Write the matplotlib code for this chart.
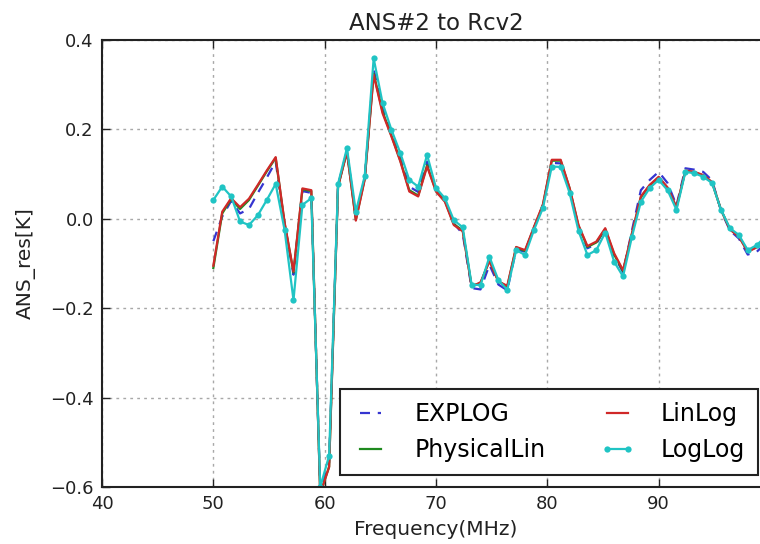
import numpy as np
import matplotlib
matplotlib.use("Agg")
import matplotlib.pyplot as plt

# ---- data ----
freq = [50.0 + 0.8 * k for k in range(63)]

loglog = [0.042, 0.072, 0.050, -0.006, -0.014, 0.008, 0.042, 0.078, -0.025, -0.182,
          0.031, 0.046, -0.600, -0.530, 0.078, 0.158, 0.016, 0.096, 0.359, 0.259,
          0.199, 0.147, 0.087, 0.072, 0.143, 0.069, 0.046, -0.003, -0.019, -0.148,
          -0.148, -0.085, -0.137, -0.159, -0.070, -0.081, -0.025, 0.024, 0.117, 0.116,
          0.058, -0.027, -0.081, -0.070, -0.031, -0.096, -0.129, -0.040, 0.038, 0.069,
          0.087, 0.064, 0.020, 0.105, 0.102, 0.094, 0.080, 0.020, -0.021, -0.036,
          -0.070, -0.059, -0.040]

linlog = [-0.105, 0.016, 0.046, 0.026, 0.045, 0.076, 0.108, 0.138, -0.008, -0.118,
          0.068, 0.064, -0.615, -0.555, 0.072, 0.150, -0.004, 0.088, 0.322, 0.236,
          0.184, 0.128, 0.061, 0.050, 0.117, 0.061, 0.038, -0.014, -0.028, -0.152,
          -0.142, -0.095, -0.140, -0.150, -0.063, -0.070, -0.018, 0.032, 0.132, 0.132,
          0.069, -0.014, -0.061, -0.051, -0.021, -0.077, -0.115, -0.032, 0.050, 0.076,
          0.094, 0.070, 0.026, 0.108, 0.105, 0.098, 0.082, 0.020, -0.024, -0.040,
          -0.074, -0.064, -0.045]

physlin = [-0.110, 0.012, 0.044, 0.022, 0.042, 0.074, 0.106, 0.136, -0.010, -0.120,
           0.066, 0.062, -0.615, -0.555, 0.072, 0.150, -0.002, 0.090, 0.325, 0.240,
           0.186, 0.130, 0.064, 0.052, 0.120, 0.062, 0.040, -0.012, -0.026, -0.150,
           -0.144, -0.093, -0.140, -0.152, -0.064, -0.072, -0.020, 0.030, 0.130, 0.130,
           0.068, -0.016, -0.063, -0.053, -0.023, -0.080, -0.117, -0.034, 0.048, 0.075,
           0.092, 0.069, 0.025, 0.107, 0.104, 0.097, 0.081, 0.020, -0.023, -0.039,
           -0.073, -0.063, -0.044]

explog = [-0.050, 0.005, 0.040, 0.012, 0.022, 0.058, 0.092, 0.128, -0.012, -0.125,
          0.062, 0.058, -0.610, -0.545, 0.075, 0.152, 0.004, 0.092, 0.335, 0.248,
          0.190, 0.138, 0.072, 0.060, 0.128, 0.064, 0.042, -0.010, -0.034, -0.155,
          -0.158, -0.103, -0.147, -0.160, -0.068, -0.074, -0.020, 0.030, 0.125, 0.124,
          0.064, -0.018, -0.066, -0.056, -0.022, -0.082, -0.120, -0.026, 0.064, 0.087,
          0.105, 0.080, 0.030, 0.113, 0.110, 0.105, 0.086, 0.018, -0.026, -0.044,
          -0.080, -0.074, -0.055]

xticks = [40, 50, 60, 70, 80, 90]
yticks = [-0.6, -0.4, -0.2, 0.0, 0.2, 0.4]

# ---- figure ----
W, H = 760, 544
fig = plt.figure(figsize=(W / 100, H / 100), dpi=100)
ax = fig.add_axes([102 / W, (H - 487) / H, 668 / W, 447 / H])

lw = 1.6
ax.plot(freq, explog, color='#3535d0', linestyle=(0, (4.5, 3.5)), lw=lw, label='EXPLOG')
ax.plot(freq, physlin, color='#1f8a1f', lw=lw, label='PhysicalLin')
ax.plot(freq, linlog, color='#d02828', lw=lw, label='LinLog')
ax.plot(freq, loglog, color='#20c4c4', lw=lw, marker='o', markersize=4.5,
        markeredgewidth=0, label='LogLog')

ax.set_xlim(40, 100)
ax.set_ylim(-0.6, 0.4)
ax.set_xticks(xticks)
ax.set_yticks(yticks)
ax.yaxis.set_major_formatter(matplotlib.ticker.FuncFormatter(
    lambda v, p: ('%.1f' % v).replace('-', '\u2212')))
ax.tick_params(direction='in', top=True, right=True, length=6, width=1,
               labelsize=13, colors='#222222', pad=6)
for s in ax.spines.values():
    s.set_linewidth(1.5)
    s.set_color('#222222')

ax.grid(True, color='#a8a8a8', linestyle=(0, (2, 3)), lw=1.0)
ax.set_axisbelow(True)

ax.set_title('ANS#2 to Rcv2', fontsize=16.5, pad=7, color='#222222')
ax.set_xlabel('Frequency(MHz)', fontsize=14.5, color='#222222', labelpad=5)
ax.set_ylabel('ANS_res[K]', fontsize=14.5, color='#222222', labelpad=10)

leg = ax.legend(loc='lower right', ncol=2, fontsize=17, numpoints=2,
                fancybox=False, framealpha=1, edgecolor='#222222',
                handlelength=1.5, handletextpad=1.1, columnspacing=2.3,
                borderpad=0.55, labelspacing=0.5, borderaxespad=0.5)
leg.get_frame().set_linewidth(1.5)

fig.savefig('out.png', dpi=100)
